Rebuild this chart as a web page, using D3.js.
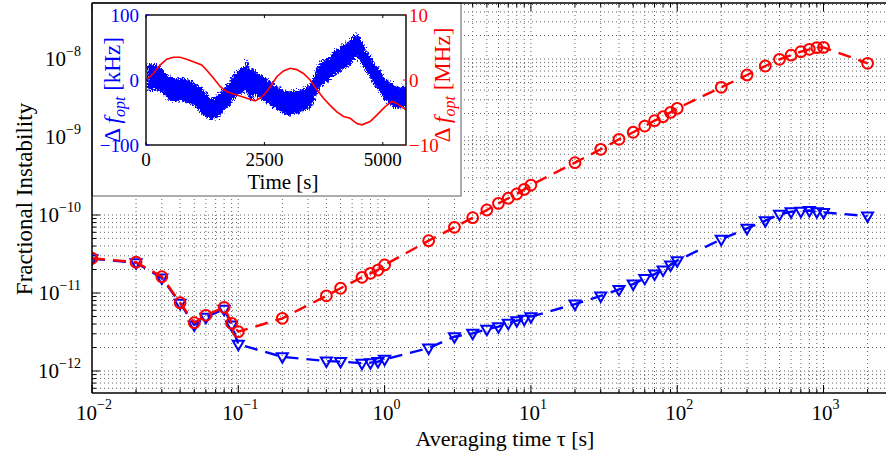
<!DOCTYPE html>
<html><head><meta charset="utf-8">
<script src="https://cdn.jsdelivr.net/npm/d3@7"></script>
<style>
body{margin:0;background:#fff}
svg{display:block}
text{font-family:"Liberation Serif","Times New Roman",serif}
</style>
</head><body>
<svg id="c" width="886" height="461"></svg>
<script>
// ---------- main chart data ----------
const tauRed = [0.01,0.02,0.03,0.04,0.05,0.06,0.08,0.09,0.1,0.2,0.4,0.5,0.7,0.8,0.9,1,2,3,4,5,6,7,8,9,10,20,30,40,50,60,70,80,90,100,200,300,400,500,600,700,800,900,1000,2000];
const valRed = [2.79e-11,2.48e-11,1.62e-11,7.5e-12,4.16e-12,5.18e-12,6.56e-12,4.09e-12,3.19e-12,4.74e-12,9.2e-12,1.15e-11,1.59e-11,1.79e-11,1.97e-11,2.29e-11,4.69e-11,6.95e-11,9.23e-11,1.16e-10,1.41e-10,1.64e-10,1.86e-10,2.13e-10,2.42e-10,4.69e-10,6.96e-10,9.35e-10,1.15e-9,1.38e-9,1.62e-9,1.82e-9,2.07e-9,2.33e-9,4.34e-9,6.24e-9,8.13e-9,9.91e-9,1.12e-8,1.24e-8,1.33e-8,1.40e-8,1.41e-8,8.81e-9];
const tauBlue = [0.01,0.02,0.03,0.04,0.05,0.06,0.08,0.09,0.1,0.2,0.4,0.5,0.7,0.8,0.9,1,2,3,4,5,6,7,8,9,10,20,30,40,50,60,70,80,90,100,200,300,400,500,600,700,800,900,1000,2000];
const valBlue = [2.75e-11,2.45e-11,1.56e-11,7.4e-12,3.9e-12,4.9e-12,6.2e-12,3.9e-12,2.2e-12,1.52e-12,1.34e-12,1.32e-12,1.26e-12,1.28e-12,1.32e-12,1.41e-12,1.97e-12,2.75e-12,3.04e-12,3.43e-12,3.70e-12,4.09e-12,4.42e-12,4.60e-12,4.97e-12,7.22e-12,9.16e-12,1.11e-11,1.30e-11,1.54e-11,1.75e-11,1.97e-11,2.29e-11,2.60e-11,4.88e-11,6.75e-11,8.45e-11,1.02e-10,1.10e-10,1.12e-10,1.14e-10,1.10e-10,1.08e-10,9.7e-11];
const xTickExps = [-2,-1,0,1,2,3];
const yTickExps = [-12,-11,-10,-9,-8];

// ---------- inset data ----------
const bandTime  = [0,150,300,440,580,720,860,1000,1140,1280,1350,1490,1630,1780,1920,2060,2090,2110,2150,2270,2480,2690,2830,2970,3110,3330,3470,3610,3820,4030,4240,4420,4590,4800,5020,5230,5490];
const bandUpper = [26,27,18,8,5,5,3,-3,-10,-23,-26,-20,-10,5,18,23,34,22,20,15,5,-6,-13,-15,-15,-10,0,26,38,51,62,73,51,26,5,-8,-8];
const bandLower = [-13,-13,-15,-27,-30,-28,-33,-38,-49,-56,-59,-54,-43,-31,-18,-15,-15,-17,-28,-20,-31,-41,-46,-51,-49,-43,-36,-10,3,15,26,39,20,-5,-28,-41,-38];
const redTime = [0,155,296,437,578,718,860,1000,1176,1283,1423,1564,1705,1917,2128,2303,2409,2550,2690,2762,2902,3043,3184,3325,3466,3607,3748,3888,4030,4170,4311,4452,4558,4733,4874,5050,5192,5297,5490];
const redMHz  = [0,1.0,2.3,3.2,3.5,3.5,3.2,2.8,2.3,1.5,0.3,-1.0,-1.8,-2.3,-2.8,-3.2,-2.8,-1.8,-0.3,0.5,1.4,1.8,1.6,1.0,0,-1.5,-2.8,-3.9,-4.9,-5.6,-5.9,-6.7,-6.9,-6.4,-5.4,-4.1,-3.3,-3.6,-4.6];
const insetXTicks = [0,2500,5000];
const insetLTicks = [-100,0,100];
const insetRTicks = [-10,0,10];

// ---------- layout ----------
const svg = d3.select("#c");
const L=92, R=886, T=3, B=393;
const x = d3.scaleLog().domain([1e-2, Math.pow(10,3.427)]).range([L,R]);
const y = d3.scaleLog().domain([Math.pow(10,-12.282), Math.pow(10,-7.282)]).range([B,T]);

svg.append("rect").attr("width",886).attr("height",461).attr("fill","#fff");
const defs = svg.append("defs");
defs.append("clipPath").attr("id","pc").append("rect").attr("x",L).attr("y",T).attr("width",R-L).attr("height",B-T);
const flt = defs.append("filter").attr("id","jag").attr("x","-5%").attr("y","-20%").attr("width","110%").attr("height","140%");
flt.append("feTurbulence").attr("type","turbulence").attr("baseFrequency","0.9 0.35").attr("numOctaves",2).attr("seed",3).attr("result","n");
flt.append("feDisplacementMap").attr("in","SourceGraphic").attr("in2","n").attr("scale",7).attr("xChannelSelector","R").attr("yChannelSelector","G");

// grid values
const xGrid=[], yGrid=[];
for(let e=-2;e<=3;e++) for(let k=1;k<=9;k++){const v=k*Math.pow(10,e); if(v<=x.domain()[1]) xGrid.push({v,major:k===1});}
for(let e=-13;e<=-8;e++) for(let k=1;k<=9;k++){const v=k*Math.pow(10,e); if(v>=y.domain()[0]&&v<=y.domain()[1]) yGrid.push({v,major:k===1});}

const g = svg.append("g").attr("clip-path","url(#pc)");
g.selectAll(".gx").data(xGrid).join("line")
  .attr("x1",d=>x(d.v)).attr("x2",d=>x(d.v)).attr("y1",T).attr("y2",B)
  .attr("stroke","#666").attr("stroke-width",1).attr("stroke-dasharray","1,3");
g.selectAll(".gy").data(yGrid).join("line")
  .attr("y1",d=>y(d.v)).attr("y2",d=>y(d.v)).attr("x1",L).attr("x2",R)
  .attr("stroke","#666").attr("stroke-width",1).attr("stroke-dasharray","1,3");

// ticks
const tk = svg.append("g").attr("stroke","#000").attr("stroke-width",1);
xGrid.forEach(d=>{
  const len=d.major?8:4, px=x(d.v);
  tk.append("line").attr("x1",px).attr("x2",px).attr("y1",B).attr("y2",B-len);
  tk.append("line").attr("x1",px).attr("x2",px).attr("y1",T).attr("y2",T+len);
});
yGrid.forEach(d=>{
  const len=d.major?8:4, py=y(d.v);
  tk.append("line").attr("x1",L).attr("x2",L+len).attr("y1",py).attr("y2",py);
});

// data
const blueData = tauBlue.map((t,i)=>[t,valBlue[i]]);
const redData = tauRed.map((t,i)=>[t,valRed[i]]);
const line = d3.line().x(d=>x(d[0])).y(d=>y(d[1]));
const dg = svg.append("g").attr("clip-path","url(#pc)");
dg.append("path").datum(blueData).attr("d",line).attr("fill","none")
  .attr("stroke","#0000ff").attr("stroke-width",2.4).attr("stroke-dasharray","13,8");
const tri = "M-5.5,-3.5L5.5,-3.5L0,6Z";
dg.selectAll(".bm").data(blueData).join("path")
  .attr("d",tri).attr("transform",d=>`translate(${x(d[0])},${y(d[1])})`)
  .attr("fill","none").attr("stroke","#0000ff").attr("stroke-width",2);
dg.append("path").datum(redData).attr("d",line).attr("fill","none")
  .attr("stroke","#ff0000").attr("stroke-width",2.4).attr("stroke-dasharray","13,8");
dg.selectAll(".rm").data(redData).join("circle")
  .attr("cx",d=>x(d[0])).attr("cy",d=>y(d[1])).attr("r",5.4)
  .attr("fill","none").attr("stroke","#ff0000").attr("stroke-width",2);

// axis tick labels
const xl = svg.append("g").attr("font-size",21).attr("fill","#000");
xTickExps.forEach(e=>{
  const t = xl.append("text").attr("x",x(Math.pow(10,e))+2).attr("y",420).attr("text-anchor","middle");
  t.append("tspan").text("10");
  t.append("tspan").attr("font-size",14).attr("dy",-11).text(e<0?"\u2212"+(-e):String(e));
});
const yl = svg.append("g").attr("font-size",21).attr("fill","#000");
yTickExps.forEach(e=>{
  const t = yl.append("text").attr("x",81).attr("y",y(Math.pow(10,e))+7).attr("text-anchor","end");
  t.append("tspan").text("10");
  t.append("tspan").attr("font-size",14).attr("dy",-10).text("\u2212"+(-e));
});
svg.append("text").attr("x",505).attr("y",446).attr("text-anchor","middle").attr("font-size",22).text("Averaging time \u03c4 [s]");
svg.append("text").attr("transform","translate(32,199) rotate(-90)").attr("text-anchor","middle").attr("font-size",23).text("Fractional Instability");

// ---------- inset ----------
svg.append("rect").attr("x",L).attr("y",T).attr("width",461-L).attr("height",196-T)
  .attr("fill","#fff").attr("stroke","#777").attr("stroke-width",1.2);
const iL=146, iR=406, iT=15, iB=145;
const ix = d3.scaleLinear().domain([0,5490]).range([iL,iR]);
const iyL = d3.scaleLinear().domain([-100,100]).range([iB,iT]);
const iyR = d3.scaleLinear().domain([-10,10]).range([iB,iT]);
defs.append("clipPath").attr("id","ic").append("rect").attr("x",iL).attr("y",iT).attr("width",iR-iL).attr("height",iB-iT);
const ig = svg.append("g").attr("clip-path","url(#ic)");
const band = bandTime.map((t,i)=>({t,u:bandUpper[i],l:bandLower[i]}));
ig.append("g").attr("filter","url(#jag)").append("path").datum(band)
  .attr("d",d3.area().x(d=>ix(d.t)).y0(d=>iyL(d.l)).y1(d=>iyL(d.u)))
  .attr("fill","#0000ff").attr("stroke","#0000ff").attr("stroke-width",1);
ig.append("path").datum(redTime.map((t,i)=>[t,redMHz[i]]))
  .attr("d",d3.line().x(d=>ix(d[0])).y(d=>iyR(d[1])))
  .attr("fill","none").attr("stroke","#ff0000").attr("stroke-width",1.6);
svg.append("rect").attr("x",iL).attr("y",iT).attr("width",iR-iL).attr("height",iB-iT)
  .attr("fill","none").attr("stroke","#000").attr("stroke-width",1.4);
const itk = svg.append("g").attr("stroke","#000").attr("stroke-width",1);
insetXTicks.forEach(v=>{
  itk.append("line").attr("x1",ix(v)).attr("x2",ix(v)).attr("y1",iB).attr("y2",iB-3);
  itk.append("line").attr("x1",ix(v)).attr("x2",ix(v)).attr("y1",iT).attr("y2",iT+3);
});
insetLTicks.forEach(v=>{
  itk.append("line").attr("x1",iL).attr("x2",iL+3).attr("y1",iyL(v)).attr("y2",iyL(v)).attr("stroke","#0000ff");
});
insetRTicks.forEach(v=>{
  itk.append("line").attr("x1",iR).attr("x2",iR-3).attr("y1",iyR(v)).attr("y2",iyR(v)).attr("stroke","#ff0000");
});
const itl = svg.append("g").attr("font-size",19);
insetXTicks.forEach(v=>{
  itl.append("text").attr("x",ix(v)).attr("y",166).attr("text-anchor","middle").attr("fill","#000").text(String(v));
});
insetLTicks.forEach(v=>{
  itl.append("text").attr("x",139).attr("y",iyL(v)+6.5).attr("text-anchor","end").attr("fill","#0000ff").text(v<0?"\u2212"+(-v):String(v));
});
insetRTicks.forEach(v=>{
  itl.append("text").attr("x",409).attr("y",iyR(v)+6.5).attr("text-anchor","start").attr("fill","#ff0000").text(v<0?"\u2212"+(-v):String(v));
});
svg.append("text").attr("x",283).attr("y",189).attr("text-anchor","middle").attr("font-size",21).text("Time [s]");
function dfLabel(tx,ty,color,unit){
  const t = svg.append("text").attr("transform",`translate(${tx},${ty}) rotate(-90)`)
    .attr("text-anchor","middle").attr("font-size",23).attr("fill",color);
  t.append("tspan").text("\u0394\u2009");
  t.append("tspan").attr("font-style","italic").text("f");
  t.append("tspan").attr("font-style","italic").attr("font-size",16).attr("dy",5).text("opt");
  t.append("tspan").attr("dy",-5).text("\u00a0["+unit+"]");
}
dfLabel(120,90,"#0000ff","kHz");
dfLabel(450,85,"#ff0000","MHz");

// main frame on top
svg.append("line").attr("x1",L).attr("x2",L).attr("y1",T).attr("y2",B).attr("stroke","#000").attr("stroke-width",1.5);
svg.append("line").attr("x1",L).attr("x2",R).attr("y1",B).attr("y2",B).attr("stroke","#000").attr("stroke-width",1.5);
svg.append("line").attr("x1",L).attr("x2",R).attr("y1",T).attr("y2",T).attr("stroke","#000").attr("stroke-width",1.5);
</script>
</body></html>
